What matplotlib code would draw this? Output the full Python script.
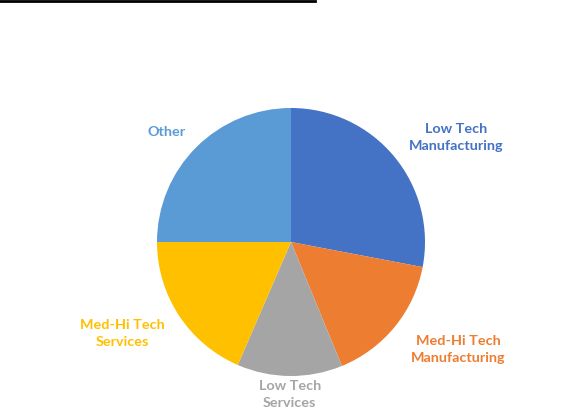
import matplotlib
matplotlib.use("Agg")
import matplotlib.pyplot as plt
from matplotlib.lines import Line2D

# Sector shares (percent), clockwise from 12 o'clock
sectors = ["Low Tech\nManufacturing", "Med-Hi Tech\nManufacturing", "Low Tech\nServices",
           "Med-Hi Tech\nServices", "Other"]
shares = [28.0, 15.8, 12.7, 18.5, 25.0]
colors = ["#4472C4", "#ED7D31", "#A5A5A5", "#FFC000", "#5B9BD5"]

# Label anchor points in pie-radius units
label_pos = [(1.23, 0.78), (1.25, -0.80), (-0.01, -1.14), (-1.26, -0.68), (-0.93, 0.82)]

W, H, R = 570, 417, 134.0
cx, cy = 291, 242

fig = plt.figure(figsize=(W / 100, H / 100), dpi=100)
ax = fig.add_axes([0, 0, 1, 1])
ax.pie(shares, colors=colors, startangle=90, counterclock=False, radius=1,
       wedgeprops=dict(linewidth=0))
ax.set_xlim(-cx / R, (W - cx) / R)
ax.set_ylim(-(H - cy) / R, cy / R)
ax.set_aspect("auto")
ax.axis("off")

for name, col, (x, y) in zip(sectors, colors, label_pos):
    ax.text(x, y, name, color=col, ha="center", va="center", fontsize=10.4,
            fontfamily="Lato", fontweight="bold", linespacing=1.5)

# Heading underline at the top edge
fig.add_artist(Line2D([0, 315 / W], [1 - 1 / H, 1 - 1 / H], color="black", lw=2.0,
                      transform=fig.transFigure))

fig.savefig("out.png", dpi=100)
